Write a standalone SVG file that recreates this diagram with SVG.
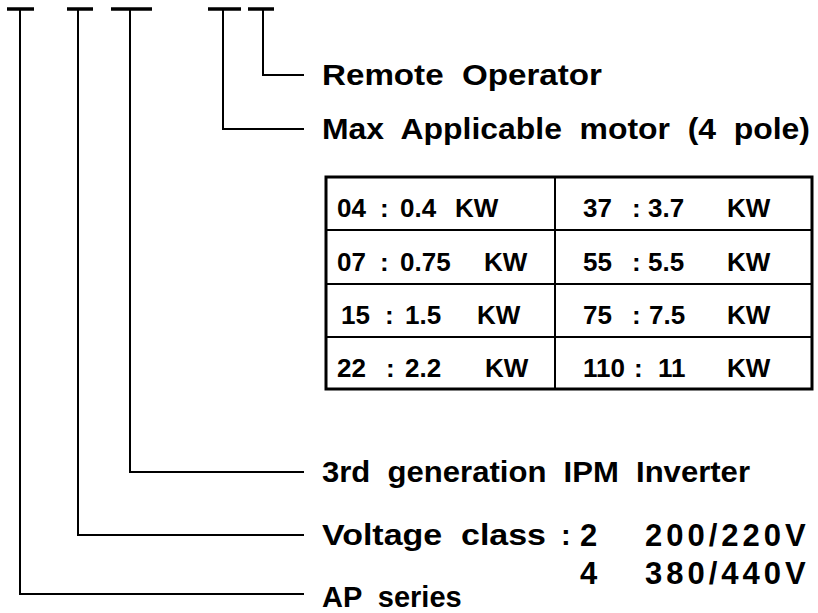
<svg xmlns="http://www.w3.org/2000/svg" width="818" height="613" viewBox="0 0 818 613">
  <style>
    .t { font-family: "Liberation Sans", Arial, sans-serif; font-weight: bold; font-size: 29px; fill: #000; word-spacing: 8px; }
    .v { font-family: "Liberation Sans", Arial, sans-serif; font-weight: bold; font-size: 31px; fill: #000; letter-spacing: 4px; }
    .c { font-family: "Liberation Sans", Arial, sans-serif; font-weight: bold; font-size: 26px; fill: #000; }
    .ln { stroke: #000; stroke-width: 2; fill: none; stroke-linecap: square; }
    .bar { stroke: #000; stroke-width: 3.5; fill: none; }
    .box { stroke: #000; stroke-width: 3; fill: #fff; }
    .grid { stroke: #000; stroke-width: 2; fill: none; }
  </style>
  <rect width="818" height="613" fill="#fff"/>

  <g id="connectors">
    <line class="bar" x1="7" y1="9" x2="34" y2="9"/>
    <line class="bar" x1="67" y1="9" x2="93" y2="9"/>
    <line class="bar" x1="111" y1="9" x2="152" y2="9"/>
    <line class="bar" x1="208" y1="9" x2="241" y2="9"/>
    <line class="bar" x1="248" y1="9" x2="274" y2="9"/>
    <polyline class="ln" points="263,9 263,75 303,75"/>
    <polyline class="ln" points="223,9 223,129 303,129"/>
    <polyline class="ln" points="130,9 130,472 303,472"/>
    <polyline class="ln" points="78,9 78,535 303,535"/>
    <polyline class="ln" points="20,9 20,594 303,594"/>
  </g>

  <g id="remote-operator">
    <text class="t" x="322" y="85" textLength="280" lengthAdjust="spacingAndGlyphs">Remote Operator</text>
  </g>

  <g id="max-motor">
    <text class="t" x="322" y="139" textLength="488" lengthAdjust="spacingAndGlyphs">Max Applicable motor (4 pole)</text>
  </g>

  <g id="motor-table">
    <rect class="box" x="326" y="177" width="486" height="212"/>
    <line class="grid" x1="555" y1="177" x2="555" y2="389"/>
    <line class="grid" x1="326" y1="230" x2="812" y2="230"/>
    <line class="grid" x1="326" y1="284" x2="812" y2="284"/>
    <line class="grid" x1="326" y1="337" x2="812" y2="337"/>

    <text class="c" y="217"><tspan x="337">04</tspan><tspan x="380">:</tspan><tspan x="400">0.4</tspan><tspan x="455">KW</tspan></text>
    <text class="c" y="217"><tspan x="583">37</tspan><tspan x="632">:</tspan><tspan x="648">3.7</tspan><tspan x="727">KW</tspan></text>

    <text class="c" y="271"><tspan x="337">07</tspan><tspan x="380">:</tspan><tspan x="400">0.75</tspan><tspan x="484">KW</tspan></text>
    <text class="c" y="271"><tspan x="583">55</tspan><tspan x="632">:</tspan><tspan x="648">5.5</tspan><tspan x="727">KW</tspan></text>

    <text class="c" y="324"><tspan x="341">15</tspan><tspan x="385">:</tspan><tspan x="405">1.5</tspan><tspan x="477">KW</tspan></text>
    <text class="c" y="324"><tspan x="583">75</tspan><tspan x="632">:</tspan><tspan x="649">7.5</tspan><tspan x="727">KW</tspan></text>

    <text class="c" y="377"><tspan x="337">22</tspan><tspan x="386">:</tspan><tspan x="405">2.2</tspan><tspan x="485">KW</tspan></text>
    <text class="c" y="377"><tspan x="583">110</tspan><tspan x="634">:</tspan><tspan x="658">11</tspan><tspan x="727">KW</tspan></text>
  </g>

  <g id="ipm-inverter">
    <text class="t" x="322" y="482" textLength="428" lengthAdjust="spacingAndGlyphs">3rd generation IPM Inverter</text>
  </g>

  <g id="voltage-class">
    <text class="t" x="322" y="545" textLength="224" lengthAdjust="spacingAndGlyphs">Voltage class</text>
    <text class="t" x="561" y="545">:</text>
    <text class="v" y="546"><tspan x="580">2</tspan><tspan x="645">200/220V</tspan></text>
    <text class="v" y="584"><tspan x="580">4</tspan><tspan x="645">380/440V</tspan></text>
  </g>

  <g id="ap-series">
    <text class="t" x="322" y="607">AP series</text>
  </g>
</svg>
